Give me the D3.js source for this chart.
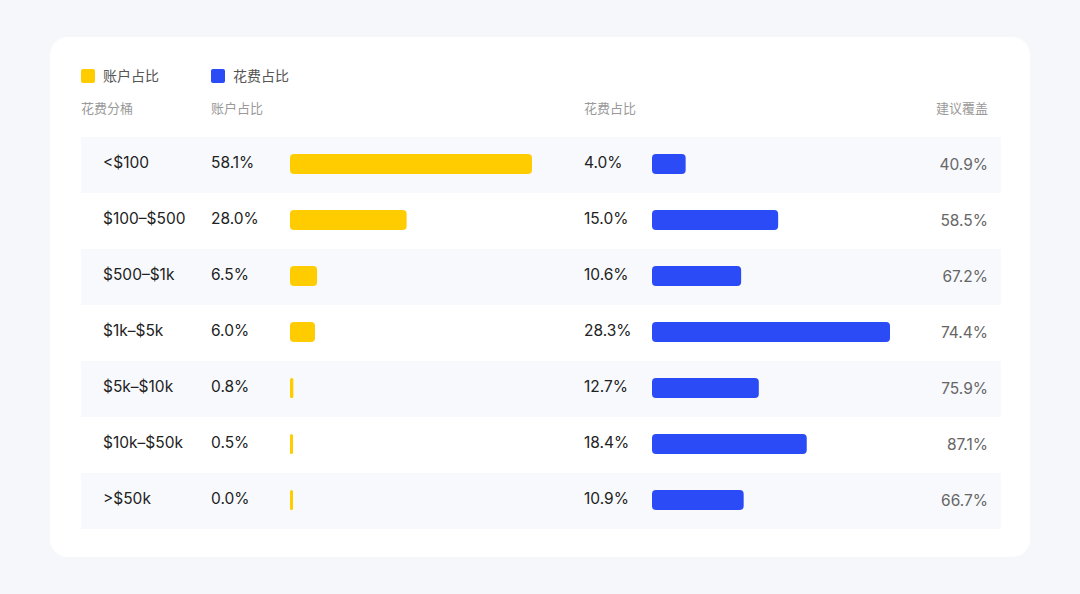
<!DOCTYPE html>
<html lang="zh">
<head>
<meta charset="UTF-8">
<title>花费分桶</title>
<script src="https://d3js.org/d3.v7.min.js"></script>
<style>
  body { margin: 0; background: #f5f7fb; font-family: Inter, "Noto Sans CJK SC", sans-serif; }
  svg { display: block; }
</style>
</head>
<body>
<svg width="1080" height="594"></svg>
<script>
// data
const buckets = ["<$100", "$100–$500", "$500–$1k", "$1k–$5k", "$5k–$10k", "$10k–$50k", ">$50k"];
const accountShare = [58.1, 28.0, 6.5, 6.0, 0.8, 0.5, 0.0];
const spendShare = [4.0, 15.0, 10.6, 28.3, 12.7, 18.4, 10.9];
const coverage = [40.9, 58.5, 67.2, 74.4, 75.9, 87.1, 66.7];
const headers = ["花费分桶", "账户占比", "花费占比", "建议覆盖"];
const legendItems = ["账户占比", "花费占比"];

const yellow = "#ffcc00", blue = "#2a4bf5";

let svg = d3.select("svg");

// card
svg.append("rect").attr("x", 50).attr("y", 37).attr("width", 980).attr("height", 520)
    .attr("rx", 18).attr("fill", "#fff");

// legend
let legend = svg.append("g").selectAll("g").data(legendItems).enter().append("g")
    .attr("transform", (d, i) => `translate(${81 + i * 130},69)`);
legend.append("rect").attr("width", 14).attr("height", 14).attr("rx", 2)
    .attr("fill", (d, i) => i == 0 ? yellow : blue);
legend.append("text").attr("x", 22).attr("y", 12).attr("font-size", 14).attr("fill", "#555")
    .text(d => d);

// headers
const headerX = [81, 211, 584, 988];
svg.append("g").selectAll("text").data(headers).enter().append("text")
    .attr("x", (d, i) => headerX[i]).attr("y", 113)
    .attr("text-anchor", (d, i) => i == 3 ? "end" : "start")
    .attr("font-size", 13).attr("fill", "#9a9a9a").text(d => d);

let y = d3.scaleBand().domain(buckets).range([137, 529]);
let xa = d3.scaleLinear().domain([0, d3.max(accountShare)]).range([0, 242]);
let xs = d3.scaleLinear().domain([0, d3.max(spendShare)]).range([0, 238]);

let rows = svg.append("g").selectAll("g").data(buckets).enter().append("g")
    .attr("transform", d => `translate(0,${y(d)})`);

rows.append("rect").attr("x", 81).attr("width", 920).attr("height", y.bandwidth())
    .attr("fill", (d, i) => i % 2 == 0 ? "#f7f9fd" : "#fff");

const mid = y.bandwidth() / 2;
const barH = 20;

rows.append("text").attr("x", 103).attr("y", mid + 3).attr("font-size", 15.5).attr("fill", "#222")
    .text(d => d);
rows.append("text").attr("x", 211).attr("y", mid + 3).attr("font-size", 15.5).attr("fill", "#222")
    .text((d, i) => accountShare[i].toFixed(1) + "%");
rows.append("rect").attr("x", 290).attr("y", mid - barH / 2 - 1).attr("height", barH)
    .attr("width", (d, i) => Math.max(3, xa(accountShare[i])))
    .attr("rx", (d, i) => xa(accountShare[i]) < 6 ? 1.5 : 4).attr("fill", yellow);

rows.append("text").attr("x", 584).attr("y", mid + 3).attr("font-size", 15.5).attr("fill", "#222")
    .text((d, i) => spendShare[i].toFixed(1) + "%");
rows.append("rect").attr("x", 652).attr("y", mid - barH / 2 - 1).attr("height", barH)
    .attr("width", (d, i) => Math.max(3, xs(spendShare[i])))
    .attr("rx", 4).attr("fill", blue);

rows.append("text").attr("x", 988).attr("y", mid + 5).attr("text-anchor", "end")
    .attr("font-size", 15.5).attr("fill", "#666")
    .text((d, i) => coverage[i].toFixed(1) + "%");
</script>
</body>
</html>
